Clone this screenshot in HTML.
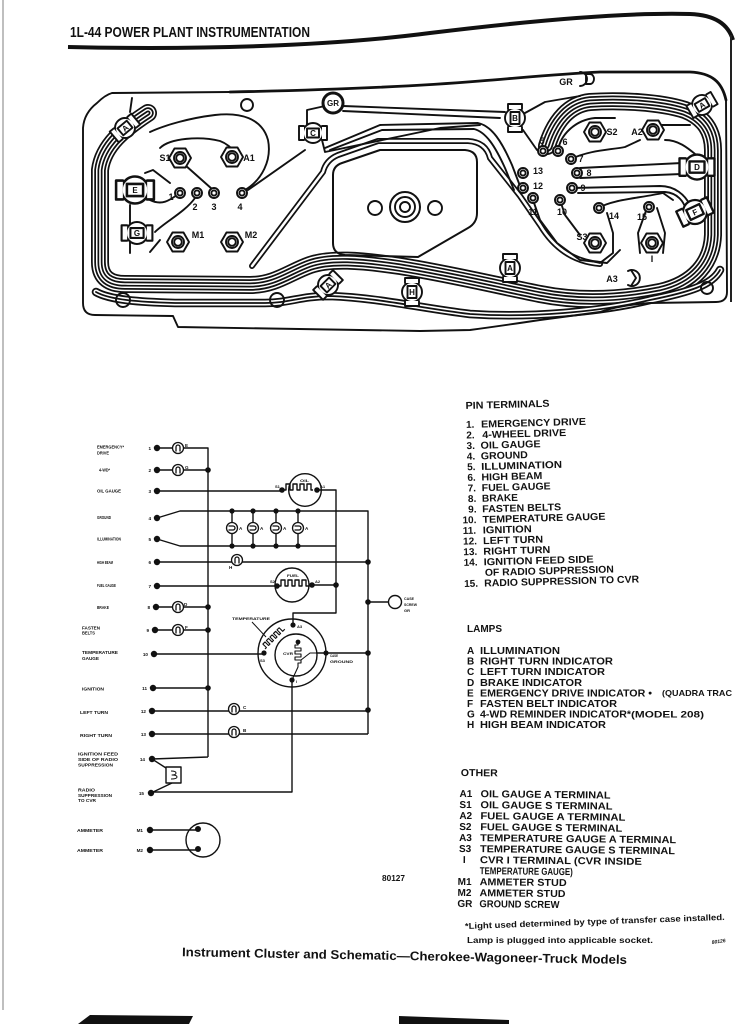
<!DOCTYPE html>
<html><head><meta charset="utf-8">
<style>
html,body{margin:0;padding:0;background:#fff;}
svg{display:block;}
text{font-family:"Liberation Sans",Arial,sans-serif;font-weight:bold;fill:#111;}
</style></head><body>
<svg width="735" height="1024" viewBox="0 0 735 1024" xmlns="http://www.w3.org/2000/svg">
<defs>
  <path id="b1" d="M148,113 C125,128 103,145 100,170 L100,262 C100,278 110,284 125,284 L250,285 C275,285 290,272 310,265 C330,258 360,260 400,266 C450,274 500,286 540,294 C580,302 620,300 660,292 C695,284 712,262 713,235 L713,150 C713,132 705,118 685,110 C660,102 620,100 590,102 C570,104 555,120 547,146"/>
  <path id="b2" d="M96,292 C110,300 140,302 175,303 L265,303 C290,303 300,296 330,296 C380,298 420,308 470,314 C530,318 600,312 650,300 C690,292 712,285 720,270"/>
  <path id="w2" d="M252,266 L323,172 Q326,160 338,155 L378,141 L468,141 Q486,142 490,158 L520,196 L540,225 C555,250 575,262 600,264"/>
  <g id="sk"><circle r="10" fill="#fff"/><path d="M-9,-7 L-14,-7 L-14,7 L-9,7 M9,-7 L14,-7 L14,7 L9,7" fill="#fff"/><rect x="-6" y="-4.5" width="12" height="9" fill="#fff"/></g>
  <g id="hx"><polygon points="11,0 5.5,9.5 -5.5,9.5 -11,0 -5.5,-9.5 5.5,-9.5" fill="#fff"/><circle r="6"/><circle r="3.8"/></g>
  <g id="pn"><circle r="5" fill="#fff"/><circle r="2.6"/></g>
  <g id="lp"><circle r="5.5" fill="#fff"/><path d="M-2,3.5 V-1 A2,2 0 0 1 2,-1 V3.5"/></g>
</defs>

<!-- page edges -->
<line x1="3" y1="0" x2="3" y2="1010" stroke="#aaa" stroke-width="1.5"/>
<polygon points="90,1015 193,1016 189,1024 78,1024" fill="#111"/>
<polygon points="399,1016 509,1020 509,1024 399,1024" fill="#111"/>

<!-- header -->
<text x="70" y="37" font-size="15" textLength="240" lengthAdjust="spacingAndGlyphs">1L-44  POWER PLANT INSTRUMENTATION</text>
<path d="M68,47 C200,50 330,46 430,33 C520,22 620,12 690,14 C715,15 728,24 733,40" fill="none" stroke="#111" stroke-width="4"/>
<line x1="731" y1="35" x2="731" y2="302" stroke="#222" stroke-width="2"/>

<!-- ===== CLUSTER ===== -->
<g fill="none" stroke-linejoin="round" stroke-linecap="round">
  <use href="#b1" stroke="#111" stroke-width="18"/>
  <use href="#b1" stroke="#fff" stroke-width="14.5"/>
  <use href="#b1" stroke="#111" stroke-width="11.5"/>
  <use href="#b1" stroke="#fff" stroke-width="8"/>
  <use href="#b1" stroke="#111" stroke-width="5"/>
  <use href="#b1" stroke="#fff" stroke-width="1.6"/>
  <use href="#b2" stroke="#111" stroke-width="8.5"/>
  <use href="#b2" stroke="#fff" stroke-width="5"/>
  <use href="#b2" stroke="#111" stroke-width="1.8"/>
  <use href="#w2" stroke="#111" stroke-width="6"/>
  <use href="#w2" stroke="#fff" stroke-width="2.5"/>
</g>
<g fill="none" stroke="#111" stroke-width="1.9" stroke-linejoin="round" stroke-linecap="round">
  <!-- outline -->
  <path d="M112,93 L230,92 M726,100 L727,292 Q727,302 716,302 L650,303 Q620,305 600,312 L540,320 Q500,326 470,330 L420,331 L178,327 L173,316 L95,315 Q83,315 83,303 L83,128 Q84,113 97,103 Q105,95 112,93"/>
  <path d="M230,92 C330,90 420,86 480,81 C530,77 560,74 600,72 L690,72 C712,73 722,82 726,100" stroke-width="2.8"/>
  <!-- window -->
  <path d="M333,175 Q333,166 342,163 L380,150 L465,150 Q477,151 477,162 L477,213 Q477,223 468,228 L418,257 L345,255 Q333,254 333,243 Z" stroke-width="2"/>
  <circle cx="405" cy="207" r="15" stroke-width="2"/>
  <circle cx="405" cy="207" r="10"/>
  <circle cx="405" cy="207" r="5"/>
  <circle cx="375" cy="208" r="7"/>
  <circle cx="435" cy="208" r="7"/>
  <!-- holes -->
  <circle cx="247" cy="105" r="6"/>
  <circle cx="123" cy="300" r="7"/>
  <circle cx="277" cy="300" r="7"/>
  <circle cx="707" cy="288" r="6"/>
  <!-- left traces -->
  <path d="M245,190 C262,180 272,160 268,140 C262,118 240,112 215,115 C190,118 165,125 150,132"/>
  <path d="M185,165 L212,189"/>
  <path d="M160,148 C170,138 200,136 220,141 C228,144 232,149 236,153"/>
  <path d="M195,198 C185,212 165,222 155,232"/>
  <path d="M177,195 C170,200 162,206 150,200"/>
  <path d="M145,173 L153,170 L170,183"/>
  <path d="M130,205 L130,253 M150,252 L160,240"/>
  <path d="M305,150 L248,190"/>
  <path d="M307,125 L307,110 L325,106"/>
  <path d="M322,140 L325,152 L440,128 L480,125"/>
  <path d="M130,112 L132,98"/>
  <!-- GR to B -->
  <path d="M343,106 L505,112 M343,111 L500,118"/>
  <path d="M325,148 L380,125 L478,123 C492,126 502,142 512,165 L520,186"/>
  <path d="M330,150 L382,130 L474,129 C486,132 495,146 505,168 L514,190"/>
  <path d="M525,113 L545,102 L580,96"/>
  <path d="M523,130 L537,150"/>
  <!-- right pins traces -->
  <path d="M558,151 C560,135 575,120 595,118 L615,118"/>
  <path d="M571,159 C590,150 610,150 625,147 L640,140"/>
  <path d="M580,168 L682,163 M580,178 L682,174"/>
  <path d="M572,188 L660,186 C675,186 685,195 690,205 M578,193 L665,192 C678,193 684,202 686,210"/>
  <path d="M599,208 C610,200 640,198 663,193 L673,200"/>
  <path d="M607,213 L613,233 L613,253 L600,263 L587,260"/>
  <path d="M647,208 L638,233 L640,253 M657,208 L665,233 L663,253"/>
  <path d="M533,200 L540,220 L557,243 L580,260 L607,263 L620,250"/>
  <path d="M560,200 L565,215 L580,235"/>
  <path d="M665,140 C680,140 690,150 700,158 M660,125 L690,125"/>
  <!-- GR top right -->
  <path d="M580,72 A7,7 0 0 1 580,86"/>
  <path d="M586,74 L590,74 A4,5 0 0 1 590,84 L586,84 Z"/>
  <!-- GR screw -->
  <circle cx="333" cy="103" r="10" stroke-width="3" fill="#fff"/>
  <!-- sockets -->
  <use href="#sk" transform="translate(125,128) rotate(-40)"/>
  <use href="#sk" transform="translate(313,133)"/>
  <use href="#sk" transform="translate(515,118) rotate(90)"/>
  <use href="#sk" transform="translate(702,105) rotate(-30)"/>
  <use href="#sk" transform="translate(697,167) scale(1.25)"/>
  <use href="#sk" transform="translate(695,212) rotate(-25) scale(1.2)"/>
  <use href="#sk" transform="translate(135,190) scale(1.35)"/>
  <use href="#sk" transform="translate(137,233) scale(1.1)"/>
  <use href="#sk" transform="translate(328,285) rotate(-45)"/>
  <use href="#sk" transform="translate(510,268) rotate(90)"/>
  <use href="#sk" transform="translate(412,292) rotate(90)"/>
  <!-- hexes -->
  <use href="#hx" transform="translate(180,158)"/>
  <use href="#hx" transform="translate(232,157)"/>
  <use href="#hx" transform="translate(178,242)"/>
  <use href="#hx" transform="translate(232,242)"/>
  <use href="#hx" transform="translate(595,132)"/>
  <use href="#hx" transform="translate(653,130)"/>
  <use href="#hx" transform="translate(595,243)"/>
  <use href="#hx" transform="translate(652,243)"/>
  <path d="M628,271 A8,8 0 1 1 628,285" fill="#fff"/>
  <path d="M631,270 L636,278 L631,286"/>
  <!-- pins -->
  <use href="#pn" transform="translate(180,193)"/>
  <use href="#pn" transform="translate(197,193)"/>
  <use href="#pn" transform="translate(214,193)"/>
  <use href="#pn" transform="translate(242,193)"/>
  <use href="#pn" transform="translate(543,151)"/>
  <use href="#pn" transform="translate(558,151)"/>
  <use href="#pn" transform="translate(571,159)"/>
  <use href="#pn" transform="translate(577,173)"/>
  <use href="#pn" transform="translate(572,188)"/>
  <use href="#pn" transform="translate(560,200)"/>
  <use href="#pn" transform="translate(533,198)"/>
  <use href="#pn" transform="translate(523,188)"/>
  <use href="#pn" transform="translate(523,173)"/>
  <use href="#pn" transform="translate(599,208)"/>
  <use href="#pn" transform="translate(649,207)"/>
</g>
<!-- cluster labels -->
<g font-size="8" text-anchor="middle">
  <text x="333" y="106">GR</text>
  <text x="125" y="131" transform="rotate(-40 125 128)">A</text>
  <text x="313" y="136">C</text>
  <text x="515" y="121">B</text>
  <text x="702" y="108" transform="rotate(-30 702 105)">A</text>
  <text x="697" y="170">D</text>
  <text x="695" y="215" transform="rotate(-25 695 212)">F</text>
  <text x="135" y="193">E</text>
  <text x="137" y="236">G</text>
  <text x="328" y="288" transform="rotate(-45 328 285)">A</text>
  <text x="510" y="271">A</text>
  <text x="412" y="295">H</text>
</g>
<g font-size="9" text-anchor="middle">
  <text x="566" y="85">GR</text>
  <text x="165" y="161">S1</text>
  <text x="249" y="161">A1</text>
  <text x="198" y="238">M1</text>
  <text x="251" y="238">M2</text>
  <text x="171" y="200">1</text>
  <text x="195" y="210">2</text>
  <text x="214" y="210">3</text>
  <text x="240" y="210">4</text>
  <text x="542" y="144">5</text>
  <text x="565" y="145">6</text>
  <text x="581" y="162">7</text>
  <text x="538" y="174">13</text>
  <text x="589" y="176">8</text>
  <text x="538" y="189">12</text>
  <text x="583" y="191">9</text>
  <text x="533" y="215">11</text>
  <text x="562" y="215">10</text>
  <text x="614" y="219">14</text>
  <text x="642" y="220">15</text>
  <text x="612" y="135">S2</text>
  <text x="637" y="135">A2</text>
  <text x="582" y="240">S3</text>
  <text x="652" y="262">I</text>
  <text x="612" y="282">A3</text>
</g>

<!-- ===== SCHEMATIC ===== -->
<g fill="none" stroke="#111" stroke-width="1.4" stroke-linejoin="round">
  <path d="M157,448 H208 V757 M152,759 L208,757"/>
  <path d="M157,470 H208"/>
  <path d="M157,491 H282"/>
  <path d="M157,518 L180,511 H368 V734"/>
  <path d="M157,539 L180,546 H336"/>
  <path d="M232,511 V546 M253,511 V546 M276,511 V546 M298,511 V546"/>
  <path d="M317,490 H336 V613 H293 V625"/>
  <path d="M157,562 H368"/>
  <path d="M157,586 H277 M312,585 H336"/>
  <path d="M368,602 H389"/>
  <circle cx="395" cy="602" r="6.5"/>
  <path d="M157,607 H208 M157,630 H208"/>
  <path d="M157,654 H264"/>
  <circle cx="292" cy="653" r="34"/>
  <circle cx="296" cy="655" r="21"/>
  <path d="M317,653 H368"/>
  <path d="M292,680 V792 H151"/>
  <path d="M153,688 H208"/>
  <path d="M152,711 H368 M152,734 H368"/>
  <path d="M152,759 L166,768 M172,783 L151,793"/>
  <rect x="166" y="767" width="15" height="16"/>
  <path d="M171,771 Q176,771 176,773 Q176,775 172,775 Q177,775 177,777 Q177,779 171,779" stroke-width="1"/>
  <path d="M150,830 H198 M150,850 H198"/>
  <circle cx="203" cy="840" r="17"/>
  <path d="M282,490 h4 v-6 h4 v6 h3 v-6 h4 v6 h3 v-6 h4 v6 h3 v-6 h4 v6 h2"/>
  <circle cx="305" cy="490" r="16.3"/>
  <path d="M277,586 h4 v-6 h4 v6 h3 v-6 h4 v6 h3 v-6 h4 v6 h3 v-6 h4 v6 h3"/>
  <circle cx="292" cy="585" r="17"/>
  <g transform="translate(265,649) rotate(-45)">
    <path d="M0,0 h2 v-5 h3 v5 h2 v-5 h3 v5 h2 v-5 h3 v5 h2 v-5 h3 v5 h2 v-5 h3 v5 h3" stroke-width="1.1"/>
  </g>
  <path d="M298,642 v3 h-3 v3 h6 v3 h-6 v3 h6 v3 h-6 v3 h6 v3 h-3 v4 L292,680" stroke-width="1.1"/>
  <path d="M301,660 L310,653 H317" stroke-width="1.1"/>
  <path d="M252,622 L266,637" stroke-width="1"/>
</g>
<g fill="none" stroke="#111" stroke-width="1.3">
  <use href="#lp" transform="translate(178,448)"/>
  <use href="#lp" transform="translate(178,470)"/>
  <use href="#lp" transform="translate(178,607)"/>
  <use href="#lp" transform="translate(178,630)"/>
  <use href="#lp" transform="translate(237,560)"/>
  <use href="#lp" transform="translate(234,709)"/>
  <use href="#lp" transform="translate(234,732)"/>
  <use href="#lp" transform="translate(232,528) rotate(90)"/>
  <use href="#lp" transform="translate(253,528) rotate(90)"/>
  <use href="#lp" transform="translate(276,528) rotate(90)"/>
  <use href="#lp" transform="translate(298,528) rotate(90)"/>
</g>
<g fill="#111">
  <circle cx="157" cy="448" r="3.2"/><circle cx="157" cy="470" r="3.2"/><circle cx="157" cy="491" r="3.2"/>
  <circle cx="157" cy="518" r="3.2"/><circle cx="157" cy="539" r="3.2"/><circle cx="157" cy="562" r="3.2"/>
  <circle cx="157" cy="586" r="3.2"/><circle cx="156" cy="607" r="3.2"/><circle cx="155" cy="630" r="3.2"/>
  <circle cx="154" cy="654" r="3.2"/><circle cx="153" cy="688" r="3.2"/><circle cx="152" cy="711" r="3.2"/>
  <circle cx="152" cy="734" r="3.2"/><circle cx="152" cy="759" r="3.2"/><circle cx="151" cy="793" r="3.2"/>
  <circle cx="150" cy="830" r="3.2"/><circle cx="150" cy="850" r="3.2"/>
  <circle cx="198" cy="829" r="3"/><circle cx="198" cy="849" r="3"/>
  <circle cx="208" cy="470" r="2.8"/><circle cx="208" cy="607" r="2.8"/><circle cx="208" cy="630" r="2.8"/><circle cx="208" cy="688" r="2.8"/>
  <circle cx="282" cy="490" r="2.8"/><circle cx="317" cy="490" r="2.8"/>
  <circle cx="277" cy="586" r="2.8"/><circle cx="312" cy="585" r="2.8"/><circle cx="336" cy="585" r="2.8"/>
  <circle cx="232" cy="511" r="2.6"/><circle cx="253" cy="511" r="2.6"/><circle cx="276" cy="511" r="2.6"/><circle cx="298" cy="511" r="2.6"/>
  <circle cx="232" cy="546" r="2.6"/><circle cx="253" cy="546" r="2.6"/><circle cx="276" cy="546" r="2.6"/><circle cx="298" cy="546" r="2.6"/>
  <circle cx="368" cy="562" r="2.8"/><circle cx="368" cy="602" r="2.8"/><circle cx="368" cy="653" r="2.8"/><circle cx="368" cy="710" r="2.8"/>
  <circle cx="264" cy="653" r="2.6"/><circle cx="293" cy="625" r="2.6"/><circle cx="292" cy="680" r="2.6"/>
  <circle cx="326" cy="653" r="2.6"/><circle cx="298" cy="642" r="2.4"/>
</g>
<!-- schematic labels -->
<g font-size="4.4">
  <text x="97" y="448.5" textLength="27" lengthAdjust="spacingAndGlyphs">EMERGENCY*</text>
  <text x="97" y="454.5" textLength="12" lengthAdjust="spacingAndGlyphs">DRIVE</text>
  <text x="99" y="471.5" textLength="11" lengthAdjust="spacingAndGlyphs">4-WD*</text>
  <text x="97" y="492.5" textLength="24" lengthAdjust="spacingAndGlyphs">OIL GAUGE</text>
  <text x="97" y="519" textLength="14" lengthAdjust="spacingAndGlyphs">GROUND</text>
  <text x="97" y="540.5" textLength="24" lengthAdjust="spacingAndGlyphs">ILLUMINATION</text>
  <text x="97" y="564" textLength="16" lengthAdjust="spacingAndGlyphs">HIGH BEAM</text>
  <text x="97" y="587" textLength="19" lengthAdjust="spacingAndGlyphs">FUEL GAUGE</text>
  <text x="97" y="609" textLength="12" lengthAdjust="spacingAndGlyphs">BRAKE</text>
  <text x="82" y="629.5" textLength="18" lengthAdjust="spacingAndGlyphs">FASTEN</text>
  <text x="82" y="634.5" textLength="13" lengthAdjust="spacingAndGlyphs">BELTS</text>
  <text x="82" y="654" textLength="36" lengthAdjust="spacingAndGlyphs">TEMPERATURE</text>
  <text x="82" y="660" textLength="17" lengthAdjust="spacingAndGlyphs">GAUGE</text>
  <text x="82" y="690.5" textLength="22" lengthAdjust="spacingAndGlyphs">IGNITION</text>
  <text x="80" y="714" textLength="28" lengthAdjust="spacingAndGlyphs">LEFT TURN</text>
  <text x="80" y="737" textLength="32" lengthAdjust="spacingAndGlyphs">RIGHT TURN</text>
  <text x="78" y="755.5" textLength="40" lengthAdjust="spacingAndGlyphs">IGNITION FEED</text>
  <text x="78" y="761" textLength="40" lengthAdjust="spacingAndGlyphs">SIDE OF RADIO</text>
  <text x="78" y="766.5" textLength="35" lengthAdjust="spacingAndGlyphs">SUPPRESSION</text>
  <text x="78" y="791.5" textLength="17" lengthAdjust="spacingAndGlyphs">RADIO</text>
  <text x="78" y="797" textLength="34" lengthAdjust="spacingAndGlyphs">SUPPRESSION</text>
  <text x="78" y="802" textLength="18" lengthAdjust="spacingAndGlyphs">TO CVR</text>
  <text x="77" y="832" textLength="26" lengthAdjust="spacingAndGlyphs">AMMETER</text>
  <text x="77" y="852" textLength="26" lengthAdjust="spacingAndGlyphs">AMMETER</text>
</g>
<g font-size="4.6" text-anchor="end">
  <text x="151" y="450">1</text><text x="151" y="472">2</text><text x="151" y="493">3</text>
  <text x="151" y="520">4</text><text x="151" y="541">5</text><text x="151" y="564">6</text>
  <text x="151" y="588">7</text><text x="150" y="609">8</text><text x="149" y="632">9</text>
  <text x="148" y="656">10</text><text x="147" y="690">11</text><text x="146" y="713">12</text>
  <text x="146" y="736">13</text><text x="145" y="761">14</text><text x="144" y="795">15</text>
  <text x="143" y="832">M1</text><text x="143" y="852">M2</text>
</g>
<g font-size="4.6">
  <text x="185" y="447">E</text><text x="185" y="469">G</text>
  <text x="184" y="606">D</text><text x="185" y="629">F</text>
  <text x="239" y="530">A</text><text x="260" y="530">A</text><text x="283" y="530">A</text><text x="305" y="530">A</text>
  <text x="229" y="569">H</text>
  <text x="243" y="709">C</text><text x="243" y="732">B</text>
</g>
<g font-size="4">
  <text x="300" y="482" textLength="9" lengthAdjust="spacingAndGlyphs">OIL</text>
  <text x="287" y="577" textLength="12" lengthAdjust="spacingAndGlyphs">FUEL</text>
  <text x="275" y="488">S1</text><text x="320" y="488">A1</text>
  <text x="270" y="583">S2</text><text x="315" y="583">A2</text>
  <text x="232" y="620" textLength="38" lengthAdjust="spacingAndGlyphs">TEMPERATURE</text>
  <text x="297" y="628">A3</text>
  <text x="260" y="662">S3</text>
  <text x="296" y="683">I</text>
  <text x="283" y="655" textLength="10" lengthAdjust="spacingAndGlyphs">CVR</text>
  <text x="330" y="657" textLength="8" lengthAdjust="spacingAndGlyphs">CASE</text>
  <text x="330" y="663" textLength="23" lengthAdjust="spacingAndGlyphs">GROUND</text>
  <text x="404" y="600" textLength="10" lengthAdjust="spacingAndGlyphs">CASE</text>
  <text x="404" y="606" textLength="13" lengthAdjust="spacingAndGlyphs">SCREW</text>
  <text x="404" y="612" textLength="6" lengthAdjust="spacingAndGlyphs">GR</text>
</g>
<text x="382" y="881" font-size="8.5" textLength="23" lengthAdjust="spacingAndGlyphs">80127</text>

<!-- ===== RIGHT TEXT ===== -->
<g font-size="10" transform="rotate(-1.5 540 500)">
  <text x="468" y="407" textLength="84" lengthAdjust="spacingAndGlyphs">PIN TERMINALS</text>
  <text x="468" y="426">1.</text><text x="483" y="426" textLength="105" lengthAdjust="spacingAndGlyphs">EMERGENCY DRIVE</text>
  <text x="468" y="436.6">2.</text><text x="484" y="436.6" textLength="84" lengthAdjust="spacingAndGlyphs">4-WHEEL DRIVE</text>
  <text x="468" y="447.2">3.</text><text x="482" y="447.2" textLength="60" lengthAdjust="spacingAndGlyphs">OIL GAUGE</text>
  <text x="468" y="457.8">4.</text><text x="482" y="457.8" textLength="47" lengthAdjust="spacingAndGlyphs">GROUND</text>
  <text x="468" y="468.4">5.</text><text x="482" y="468.4" textLength="81" lengthAdjust="spacingAndGlyphs">ILLUMINATION</text>
  <text x="468" y="479">6.</text><text x="482" y="479" textLength="61" lengthAdjust="spacingAndGlyphs">HIGH BEAM</text>
  <text x="468" y="489.6">7.</text><text x="482" y="489.6" textLength="69" lengthAdjust="spacingAndGlyphs">FUEL GAUGE</text>
  <text x="468" y="500.2">8.</text><text x="482" y="500.2" textLength="36" lengthAdjust="spacingAndGlyphs">BRAKE</text>
  <text x="468" y="510.8">9.</text><text x="482" y="510.8" textLength="79" lengthAdjust="spacingAndGlyphs">FASTEN BELTS</text>
  <text x="462" y="521.4">10.</text><text x="482" y="521.4" textLength="123" lengthAdjust="spacingAndGlyphs">TEMPERATURE GAUGE</text>
  <text x="462" y="532">11.</text><text x="482" y="532" textLength="49" lengthAdjust="spacingAndGlyphs">IGNITION</text>
  <text x="462" y="542.6">12.</text><text x="482" y="542.6" textLength="60" lengthAdjust="spacingAndGlyphs">LEFT TURN</text>
  <text x="462" y="553.2">13.</text><text x="482" y="553.2" textLength="67" lengthAdjust="spacingAndGlyphs">RIGHT TURN</text>
  <text x="462" y="563.8">14.</text><text x="482" y="563.8" textLength="110" lengthAdjust="spacingAndGlyphs">IGNITION FEED SIDE</text>
  <text x="483" y="574.4" textLength="129" lengthAdjust="spacingAndGlyphs">OF RADIO SUPPRESSION</text>
  <text x="462" y="585">15.</text><text x="482" y="585" textLength="155" lengthAdjust="spacingAndGlyphs">RADIO SUPPRESSION TO CVR</text>
</g>
<g font-size="10">
  <text x="467" y="632" textLength="35" lengthAdjust="spacingAndGlyphs">LAMPS</text>
  <text x="467" y="654">A</text><text x="480" y="654" textLength="80" lengthAdjust="spacingAndGlyphs">ILLUMINATION</text>
  <text x="467" y="664.6">B</text><text x="480" y="664.6" textLength="133" lengthAdjust="spacingAndGlyphs">RIGHT TURN INDICATOR</text>
  <text x="467" y="675.2">C</text><text x="480" y="675.2" textLength="125" lengthAdjust="spacingAndGlyphs">LEFT TURN INDICATOR</text>
  <text x="467" y="685.8">D</text><text x="480" y="685.8" textLength="102" lengthAdjust="spacingAndGlyphs">BRAKE INDICATOR</text>
  <text x="467" y="696.4">E</text><text x="480" y="696.4" textLength="172" lengthAdjust="spacingAndGlyphs">EMERGENCY DRIVE INDICATOR •</text>
  <text x="662" y="696" font-size="8.5" textLength="70" lengthAdjust="spacingAndGlyphs">(QUADRA TRAC</text>
  <text x="467" y="707">F</text><text x="480" y="707" textLength="137" lengthAdjust="spacingAndGlyphs">FASTEN BELT INDICATOR</text>
  <text x="467" y="717.6">G</text><text x="480" y="717.6" textLength="151" lengthAdjust="spacingAndGlyphs">4-WD REMINDER INDICATOR*</text>
  <text x="631" y="717.6" font-size="9" textLength="73" lengthAdjust="spacingAndGlyphs">(MODEL 208)</text>
  <text x="467" y="728.2">H</text><text x="480" y="728.2" textLength="126" lengthAdjust="spacingAndGlyphs">HIGH BEAM INDICATOR</text>
</g>
<g font-size="10" transform="rotate(0.6 560 850)">
  <text x="460" y="777" textLength="37" lengthAdjust="spacingAndGlyphs">OTHER</text>
  <text x="459" y="798">A1</text><text x="480" y="798" textLength="130" lengthAdjust="spacingAndGlyphs">OIL GAUGE A TERMINAL</text>
  <text x="459" y="809">S1</text><text x="480" y="809" textLength="132" lengthAdjust="spacingAndGlyphs">OIL GAUGE S TERMINAL</text>
  <text x="459" y="820">A2</text><text x="480" y="820" textLength="145" lengthAdjust="spacingAndGlyphs">FUEL GAUGE A TERMINAL</text>
  <text x="459" y="831">S2</text><text x="480" y="831" textLength="142" lengthAdjust="spacingAndGlyphs">FUEL GAUGE S TERMINAL</text>
  <text x="459" y="842">A3</text><text x="480" y="842" textLength="196" lengthAdjust="spacingAndGlyphs">TEMPERATURE GAUGE A TERMINAL</text>
  <text x="459" y="853">S3</text><text x="480" y="853" textLength="195" lengthAdjust="spacingAndGlyphs">TEMPERATURE GAUGE S TERMINAL</text>
  <text x="463" y="864">I</text><text x="480" y="864" textLength="162" lengthAdjust="spacingAndGlyphs">CVR I TERMINAL (CVR INSIDE</text>
  <text x="480" y="875" textLength="93" lengthAdjust="spacingAndGlyphs">TEMPERATURE GAUGE)</text>
  <text x="458" y="886">M1</text><text x="480" y="886" textLength="87" lengthAdjust="spacingAndGlyphs">AMMETER STUD</text>
  <text x="458" y="897">M2</text><text x="480" y="897" textLength="86" lengthAdjust="spacingAndGlyphs">AMMETER STUD</text>
  <text x="458" y="908">GR</text><text x="480" y="908" textLength="80" lengthAdjust="spacingAndGlyphs">GROUND SCREW</text>
</g>
<text x="465" y="929" font-size="8.5" textLength="260" lengthAdjust="spacingAndGlyphs" transform="rotate(-2 465 929)">*Light used determined by type of transfer case installed.</text>
<text x="467" y="943" font-size="8.5" textLength="186" lengthAdjust="spacingAndGlyphs">Lamp is plugged into applicable socket.</text>
<text x="712" y="944" font-size="5" font-style="italic" transform="rotate(-8 712 944)">80126</text>
<text x="182" y="960" font-size="12.5" textLength="445" lengthAdjust="spacingAndGlyphs" transform="rotate(1 400 955)">Instrument Cluster and Schematic—Cherokee-Wagoneer-Truck Models</text>
</svg>
</body></html>
